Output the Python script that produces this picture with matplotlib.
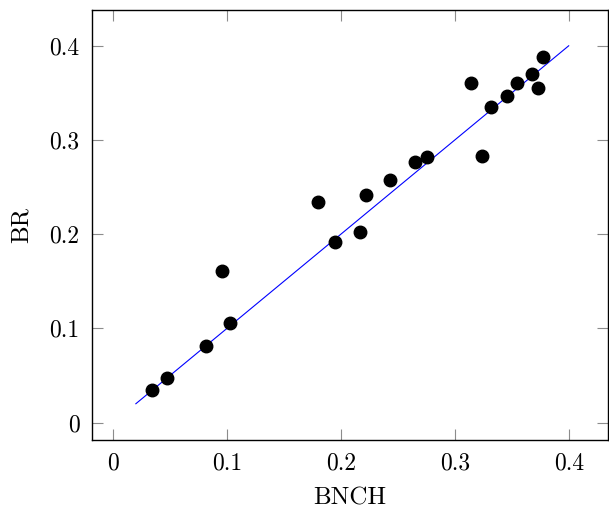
import numpy as np
import matplotlib.pyplot as plt

plt.rcParams['font.family'] = 'cmr10'
plt.rcParams['axes.formatter.use_mathtext'] = True

# BNCH vs BR values
bnch = [0.034, 0.047, 0.082, 0.096, 0.103, 0.180, 0.195, 0.217, 0.222, 0.243,
        0.265, 0.276, 0.314, 0.324, 0.332, 0.346, 0.355, 0.368, 0.373, 0.377]
br = [0.035, 0.047, 0.081, 0.161, 0.106, 0.234, 0.192, 0.202, 0.242, 0.257,
      0.277, 0.282, 0.361, 0.283, 0.335, 0.347, 0.361, 0.370, 0.355, 0.388]
line_x = [0.02, 0.4]
line_y = [0.02, 0.4]

fig = plt.figure(figsize=(6.09, 5.12), dpi=100)
ax = fig.add_axes([92/609, 1-440/512, (608-92)/609, (440-10)/512])

ax.plot(line_x, line_y, color='blue', linewidth=0.8, zorder=2)
ax.plot(bnch, br, 'o', color='black', markersize=9, zorder=3)

ax.set_xlim(-0.0185, 0.4345)
ax.set_ylim(-0.0185, 0.438)
ax.set_xticks(np.arange(0, 0.41, 0.1))
ax.set_yticks(np.arange(0, 0.41, 0.1))
ax.set_xticklabels(['0', '0.1', '0.2', '0.3', '0.4'])
ax.set_yticklabels(['0', '0.1', '0.2', '0.3', '0.4'])
ax.tick_params(direction='in', length=8, width=0.8, color='#8c8c8c',
               top=True, right=True, labelsize=17, pad=9)
for s in ax.spines.values():
    s.set_linewidth(1.0)

ax.set_xlabel('BNCH', fontsize=18, labelpad=9)
ax.set_ylabel('BR', fontsize=18, labelpad=12)

fig.savefig('out.png', dpi=100)
